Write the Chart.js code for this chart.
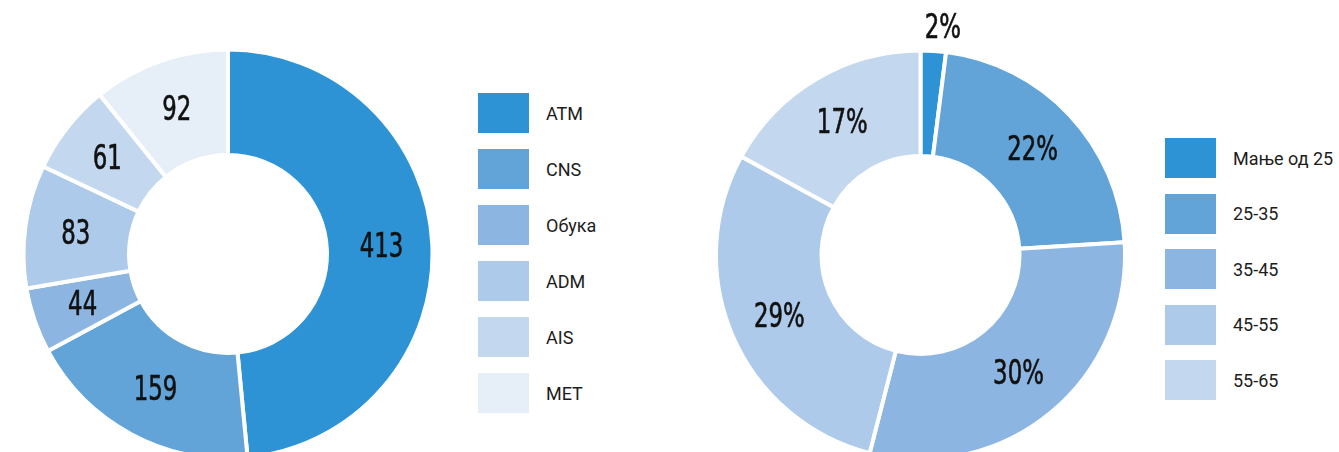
<!DOCTYPE html>
<html>
<head>
<meta charset="utf-8">
<script src="https://cdn.jsdelivr.net/npm/chart.js@4"></script>
<style>
  html, body { margin: 0; padding: 0; background: #fff; }
  body { width: 1339px; height: 452px; position: relative; overflow: hidden; }
  .chart-box { position: absolute; top: 0; height: 452px; }
  .legend {
    position: absolute; margin: 0; padding: 0; list-style: none;
    font-family: Roboto, "Noto Sans", sans-serif; font-size: 18px; font-weight: 400; color: #1d1d1b;
  }
  .legend li { display: flex; align-items: center; height: 40px; white-space: nowrap; }
  .legend .box { width: 51px; height: 40px; margin-right: 17px; flex: none; }
  #legend-sectors { left: 478px; top: 93px; }
  #legend-sectors li { margin-bottom: 16px; }
  #legend-age { left: 1165px; top: 138px; }
  #legend-age li { margin-bottom: 15.5px; }
</style>
</head>
<body>
<div class="chart-box" style="left:0;width:456px;"><canvas id="sectorChart"></canvas></div>
<ul class="legend" id="legend-sectors"></ul>
<div class="chart-box" style="left:700px;width:441px;"><canvas id="ageChart"></canvas></div>
<ul class="legend" id="legend-age"></ul>
<script>
const sectorLabels = ["ATM", "CNS", "Обука", "ADM", "AIS", "MET"];
const sectorValues = [413, 159, 44, 83, 61, 92];

const ageLabels = ["Мање од 25", "25-35", "35-45", "45-55", "55-65"];
const agePercent = [2, 22, 30, 29, 17];

const blues = ["#2d93d4", "#62a3d8", "#8cb6e1", "#adcaea", "#c3d8ef", "#e6eef8"];

// draws the numbers on the ring, tiny slices get their label outside
const valueLabels = {
  id: "valueLabels",
  afterDatasetsDraw(chart, args, opts) {
    const ctx = chart.ctx;
    const meta = chart.getDatasetMeta(0);
    const data = chart.data.datasets[0].data;
    meta.data.forEach((arc, i) => {
      const mid = (arc.startAngle + arc.endAngle) / 2;
      const share = (arc.endAngle - arc.startAngle) / (Math.PI * 2);
      let r = (arc.innerRadius + arc.outerRadius) / 2 + 2;
      let dx = 0;
      if (share < 0.04) {
        r = arc.outerRadius + 24;
        dx = 8;
      }
      const x = arc.x + Math.cos(mid) * r + dx;
      const y = arc.y + Math.sin(mid) * r + 2;
      const text = opts.suffix ? data[i] + opts.suffix : String(data[i]);
      ctx.save();
      ctx.translate(x, y);
      ctx.scale(0.77, 1);
      ctx.font = '33px "Liberation Sans Narrow", "DejaVu Sans Condensed", sans-serif';
      ctx.fillStyle = "#111";
      ctx.strokeStyle = "#111";
      ctx.lineWidth = 0.6;
      ctx.textAlign = "center";
      ctx.textBaseline = "middle";
      ctx.fillText(text, 0, 0);
      ctx.strokeText(text, 0, 0);
      ctx.restore();
    });
  },
};

const buildLegend = (el, labels, colors) => {
  el.innerHTML = labels
    .map((l, i) => `<li><span class="box" style="background:${colors[i]}"></span><span>${l}</span></li>`)
    .join("");
};

const makeDoughnut = (canvas, labels, values, padTop, suffix) => {
  return new Chart(canvas, {
    type: "doughnut",
    data: {
      labels: labels,
      datasets: [
        {
          data: values,
          backgroundColor: blues.slice(0, values.length),
          borderColor: "#ffffff",
          borderWidth: 4,
          clip: false,
        },
      ],
    },
    options: {
      responsive: true,
      maintainAspectRatio: false,
      animation: false,
      radius: 204.5,
      cutout: "48.4%",
      layout: { padding: { top: padTop } },
      plugins: {
        legend: { display: false },
        tooltip: { enabled: false },
        valueLabels: { suffix: suffix },
      },
    },
    plugins: [valueLabels],
  });
};

makeDoughnut(document.getElementById("sectorChart"), sectorLabels, sectorValues, 56, "");
makeDoughnut(document.getElementById("ageChart"), ageLabels, agePercent, 58, "%");
buildLegend(document.getElementById("legend-sectors"), sectorLabels, blues);
buildLegend(document.getElementById("legend-age"), ageLabels, blues);
</script>
</body>
</html>
